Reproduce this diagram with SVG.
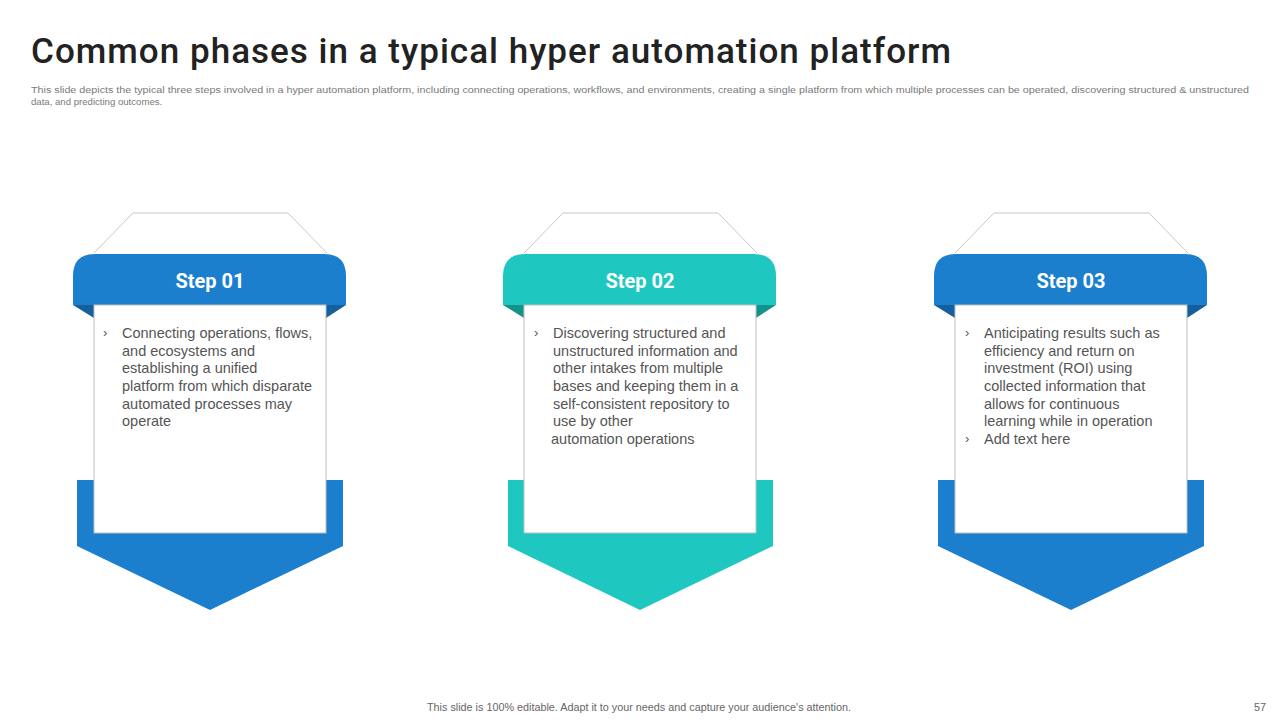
<svg xmlns="http://www.w3.org/2000/svg" width="1280" height="720" viewBox="0 0 1280 720">
<style>
.title{font-family:"Roboto","Liberation Sans",Arial,sans-serif;font-size:35px;font-weight:500;fill:#222;letter-spacing:1px}
.sub{font-family:"Liberation Sans",Arial,sans-serif;font-size:9.6px;fill:#7a7a7a}
.foot{font-family:"Liberation Sans",Arial,sans-serif;font-size:10.8px;fill:#666}
.step{font-family:"Roboto","Liberation Sans",sans-serif;font-size:20px;font-weight:bold;fill:#fff}
.body{font-family:"Liberation Sans",Arial,sans-serif;font-size:14.5px;fill:#555}
.bul{font-family:"Liberation Sans",Arial,sans-serif;font-size:13px;fill:#555}
.cap{fill:#fff;stroke:#c8c8c8;stroke-width:1}
.card{fill:#fff;stroke:#bdbdbd;stroke-width:1}
.blue{fill:#1b7fce}
.blued{fill:#14609f}
.teal{fill:#1ec8c0}
.teald{fill:#14928c}
</style>
<rect width="1280" height="720" fill="#fff"/>
<text class="title" x="31" y="63" textLength="921" lengthAdjust="spacingAndGlyphs">Common phases in a typical hyper automation platform</text>
<text class="sub" x="31" y="93" textLength="1218" lengthAdjust="spacingAndGlyphs">This slide depicts the typical three steps involved in a hyper automation platform, including connecting operations, workflows, and environments, creating a single platform from which multiple processes can be operated, discovering structured &amp; unstructured</text>
<text class="sub" x="31" y="105">data, and predicting outcomes.</text>

<g id="step1">
<path class="cap" d="M94 253 L133 213 L288 213 L327 253"/>
<path class="blue" d="M77 480 H343 V546 L210 610 L77 546 Z"/>
<path class="blued" d="M73 305 H94 V318 Z M346 305 H326 V318 Z"/>
<path class="blue" d="M73 305 V276 Q73 254 95 254 H324 Q346 254 346 276 V305 Z"/>
<rect class="card" x="94" y="305" width="232" height="228"/>
<text class="step" x="210" y="288" text-anchor="middle">Step 01</text>
<text class="bul" x="103" y="337">›</text>
<text class="body"><tspan x="122" y="338">Connecting operations, flows,</tspan><tspan x="122" y="356">and ecosystems and</tspan><tspan x="122" y="373">establishing a unified</tspan><tspan x="122" y="391">platform from which disparate</tspan><tspan x="122" y="409">automated processes may</tspan><tspan x="122" y="426">operate</tspan></text>
</g>

<g id="step2">
<path class="cap" d="M524 253 L563 213 L718 213 L757 253"/>
<path class="teal" d="M508 480 H773 V546 L640 610 L508 546 Z"/>
<path class="teald" d="M503 305 H524 V318 Z M776 305 H756 V318 Z"/>
<path class="teal" d="M503 305 V276 Q503 254 525 254 H754 Q776 254 776 276 V305 Z"/>
<rect class="card" x="524" y="305" width="232" height="228"/>
<text class="step" x="640" y="288" text-anchor="middle">Step 02</text>
<text class="bul" x="534" y="337">›</text>
<text class="body"><tspan x="553" y="338">Discovering structured and</tspan><tspan x="553" y="356">unstructured information and</tspan><tspan x="553" y="373">other intakes from multiple</tspan><tspan x="553" y="391">bases and keeping them in a</tspan><tspan x="553" y="409">self-consistent repository to</tspan><tspan x="553" y="426">use by other</tspan><tspan x="551" y="444">automation operations</tspan></text>
</g>

<g id="step3">
<path class="cap" d="M955 253 L994 213 L1149 213 L1188 253"/>
<path class="blue" d="M938 480 H1204 V546 L1071 610 L938 546 Z"/>
<path class="blued" d="M934 305 H955 V318 Z M1207 305 H1187 V318 Z"/>
<path class="blue" d="M934 305 V276 Q934 254 956 254 H1185 Q1207 254 1207 276 V305 Z"/>
<rect class="card" x="955" y="305" width="232" height="228"/>
<text class="step" x="1071" y="288" text-anchor="middle">Step 03</text>
<text class="bul" x="965" y="337">›</text>
<text class="bul" x="965" y="443">›</text>
<text class="body"><tspan x="984" y="338">Anticipating results such as</tspan><tspan x="984" y="356">efficiency and return on</tspan><tspan x="984" y="373">investment (ROI) using</tspan><tspan x="984" y="391">collected information that</tspan><tspan x="984" y="409">allows for continuous</tspan><tspan x="984" y="426">learning while in operation</tspan><tspan x="984" y="444">Add text here</tspan></text>
</g>

<text class="foot" x="639" y="711" text-anchor="middle">This slide is 100% editable.  Adapt it to your needs and capture your audience's attention.</text>
<text class="foot" x="1254" y="711">57</text>
</svg>
